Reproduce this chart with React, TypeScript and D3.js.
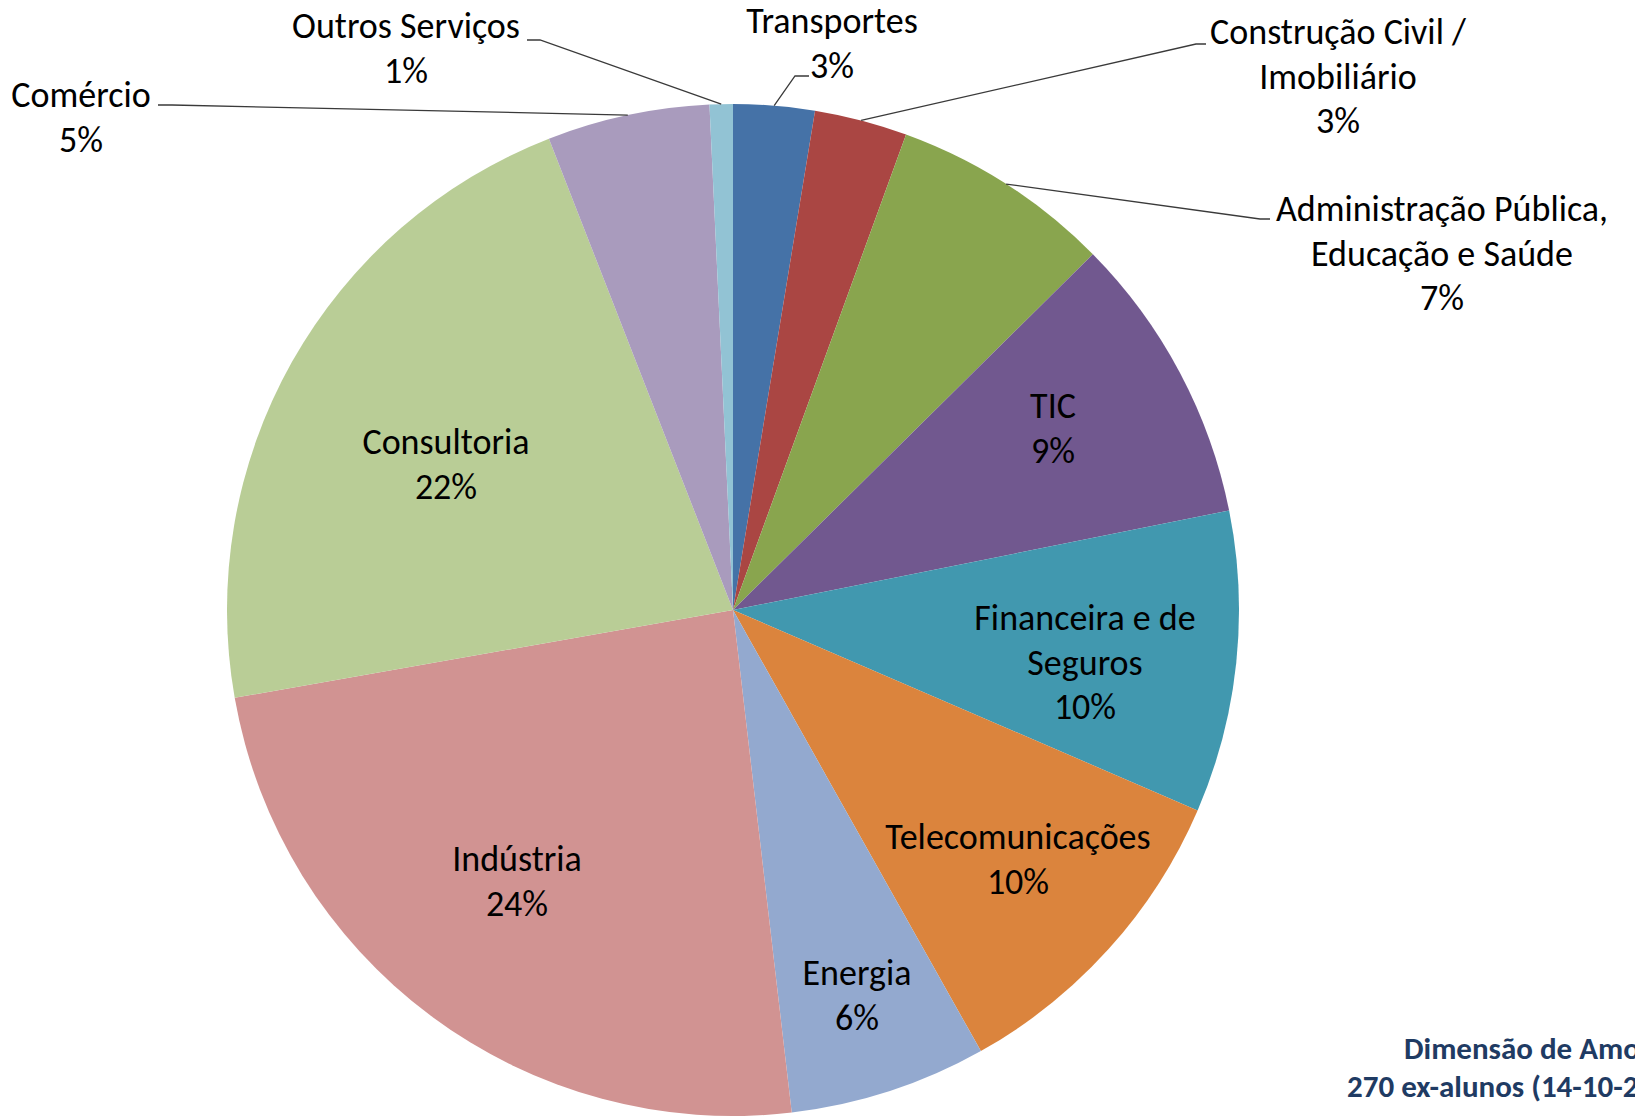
import React from 'react';
import * as d3 from 'd3';

const categories = [
  'Transportes',
  'Construção Civil / Imobiliário',
  'Administração Pública, Educação e Saúde',
  'TIC',
  'Financeira e de Seguros',
  'Telecomunicações',
  'Energia',
  'Indústria',
  'Consultoria',
  'Comércio',
  'Outros Serviços',
];
const counts = [7, 8, 19, 25, 26, 28, 17, 65, 59, 14, 2];
const labelLines = [
  ['Transportes'],
  ['Construção Civil /', 'Imobiliário'],
  ['Administração Pública,', 'Educação e Saúde'],
  ['TIC'],
  ['Financeira e de', 'Seguros'],
  ['Telecomunicações'],
  ['Energia'],
  ['Indústria'],
  ['Consultoria'],
  ['Comércio'],
  ['Outros Serviços'],
];
const sliceColors = [
  '#4572A7', '#AA4643', '#89A54E', '#71588F', '#4198AF', '#DB843D',
  '#93A9CF', '#D19392', '#B9CD96', '#A99BBD', '#92C3D4',
];
const footnoteLines = ['Dimensão de Amostra:', '270 ex-alunos (14-10-2013)'];

// layout (annotation placement, px)
const W = 1635, H = 1116;
const CX = 733, CY = 610, R = 506;
const LINE_H = 44.5;
const labelPos: { x: number; y: number; elbow?: [number, number][] }[] = [
  { x: 832, y: 33, elbow: [[795, 76], [809, 76]] },
  { x: 1338, y: 44, elbow: [[1196, 44], [1206, 44]] },
  { x: 1442, y: 221, elbow: [[1260, 219], [1270, 219]] },
  { x: 1053, y: 418 },
  { x: 1085, y: 630 },
  { x: 1018, y: 849 },
  { x: 857, y: 985 },
  { x: 517, y: 871 },
  { x: 446, y: 454 },
  { x: 81, y: 107, elbow: [[172, 105], [158, 105]] },
  { x: 406, y: 38, elbow: [[540, 40], [527, 40]] },
];

const FONT = "Calibri, Carlito, 'Open Sans', sans-serif";

export default function App() {
  const total = d3.sum(counts);
  const pie = d3.pie<number>().sort(null).value((d) => d);
  const arcs = pie(counts);
  const arcGen = d3.arc<d3.PieArcDatum<number>>().innerRadius(0).outerRadius(R);

  return (
    <svg
      width={W}
      height={H}
      style={{ position: 'absolute', left: 0, top: 0, background: '#fff' }}
      fontFamily={FONT}
    >
      <g transform={`translate(${CX},${CY})`}>
        {arcs.map((a, i) => (
          <path key={categories[i]} d={arcGen(a) || ''} fill={sliceColors[i]} />
        ))}
      </g>
      {arcs.map((a, i) => {
        const p = labelPos[i];
        if (!p.elbow) return null;
        const mid = (a.startAngle + a.endAngle) / 2;
        const start: [number, number] = [CX + R * Math.sin(mid), CY - R * Math.cos(mid)];
        const pts = [start, ...p.elbow];
        return (
          <path
            key={'l' + i}
            d={d3.line()(pts) || ''}
            fill="none"
            stroke="#3a3a3a"
            strokeWidth={1.3}
          />
        );
      })}
      {arcs.map((a, i) => {
        const p = labelPos[i];
        const pct = Math.round((counts[i] / total) * 100) + '%';
        const lines = [...labelLines[i], pct];
        return (
          <text key={'t' + i} x={p.x} y={p.y} textAnchor="middle" fontSize={36} fill="#000">
            {lines.map((ln, j) => (
              <tspan key={j} x={p.x} y={p.y + j * LINE_H}>
                {ln}
              </tspan>
            ))}
          </text>
        );
      })}
      <text fontSize={31} fontWeight="bold" fill="#1F3B63">
        <tspan x={1404} y={1059}>{footnoteLines[0]}</tspan>
        <tspan x={1347} y={1097}>{footnoteLines[1]}</tspan>
      </text>
    </svg>
  );
}
